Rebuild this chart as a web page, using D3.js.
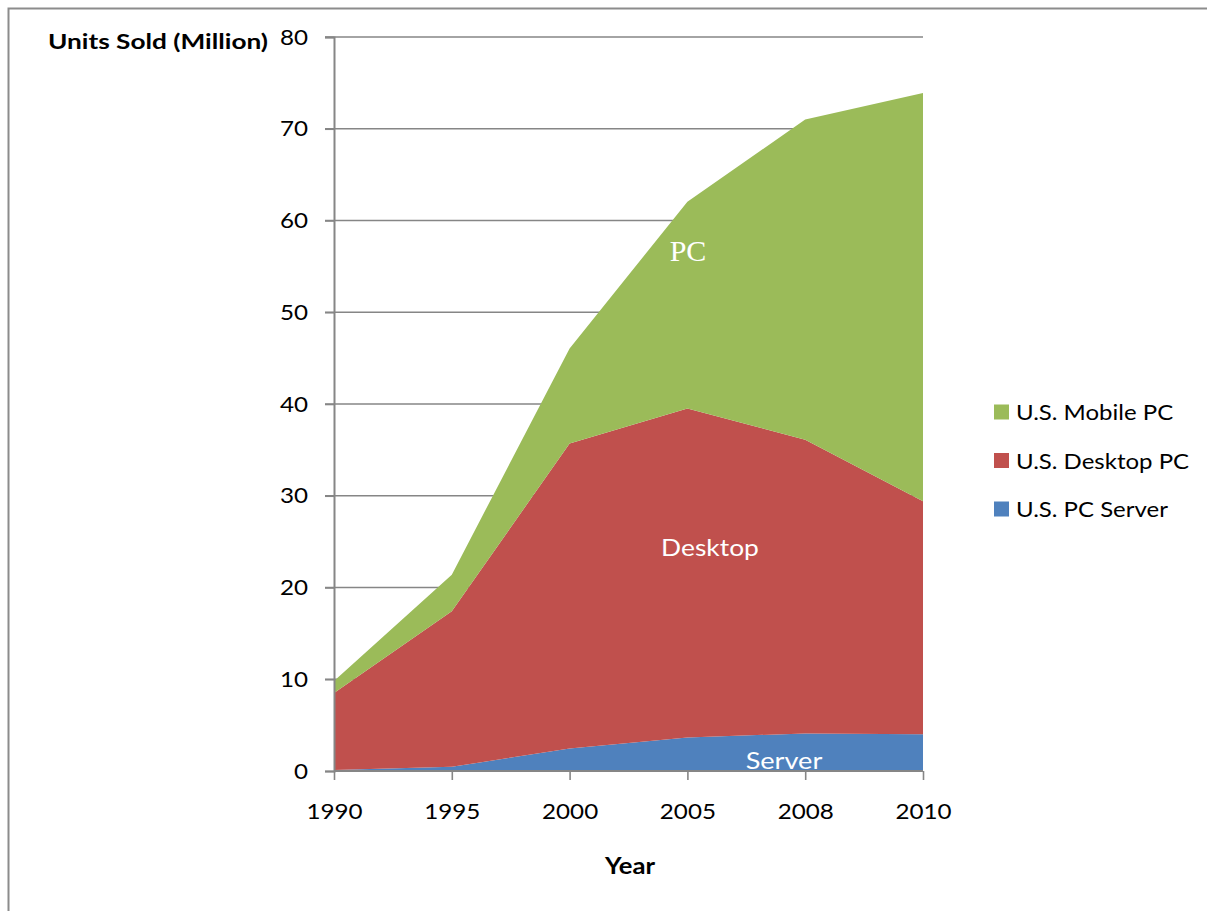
<!DOCTYPE html>
<html>
<head>
<meta charset="utf-8">
<script src="https://cdn.jsdelivr.net/npm/d3@7/dist/d3.min.js"></script>
<style>
  html, body { margin: 0; padding: 0; background: #fff; }
  svg { display: block; font-family: Lato, "Open Sans", sans-serif; }
</style>
</head>
<body>
<svg id="chart" width="1207" height="911"></svg>
<script>
// Category axis (years, evenly spaced)
const years = ["1990", "1995", "2000", "2005", "2008", "2010"];

// Units sold per segment, millions
const serverUnits  = [0.1, 0.45, 2.45, 3.65, 4.1, 4.0];
const desktopUnits = [8.4, 16.95, 33.25, 35.85, 32.0, 25.4];
const mobileUnits  = [1.3, 4.0, 10.35, 22.55, 34.9, 44.5];

const yTicks = [0, 10, 20, 30, 40, 50, 60, 70, 80];

const seriesNames = ["U.S. PC Server", "U.S. Desktop PC", "U.S. Mobile PC"];
const seriesColors = ["#4F81BD", "#C0504D", "#9BBB59"];

const rows = years.map((y, i) => ({
  year: y,
  "U.S. PC Server": serverUnits[i],
  "U.S. Desktop PC": desktopUnits[i],
  "U.S. Mobile PC": mobileUnits[i]
}));

const svg = d3.select("#chart");
const axisGray = "#868686";

// Widen text horizontally by a factor (the face used is a bit narrower than the intended one)
function widen(sel, factor) {
  sel.each(function () {
    const w = this.getComputedTextLength();
    d3.select(this).attr("textLength", w * factor).attr("lengthAdjust", "spacingAndGlyphs");
  });
}

// Outer chart border
svg.append("rect")
  .attr("x", 8.5).attr("y", 8.5)
  .attr("width", 1300).attr("height", 1000)
  .attr("fill", "none").attr("stroke", "#8c8c8c").attr("stroke-width", 2);

const x = d3.scalePoint().domain(years).range([334, 923]);
const y = d3.scaleLinear().domain([0, 80]).range([771, 37]);

// Horizontal gridlines with their tick stubs
svg.append("g").selectAll("line")
  .data(yTicks.filter(t => t > 0))
  .join("line")
  .attr("x1", 325).attr("x2", 923)
  .attr("y1", d => y(d)).attr("y2", d => y(d))
  .attr("stroke", axisGray).attr("stroke-width", 1.6);

// Stacked areas
const stack = d3.stack().keys(seriesNames);
const layers = stack(rows);
const area = d3.area()
  .x(d => x(d.data.year))
  .y0(d => y(d[0]))
  .y1(d => y(d[1]));

svg.append("g").selectAll("path")
  .data(layers)
  .join("path")
  .attr("d", area)
  .attr("fill", (d, i) => seriesColors[i]);

// Y axis
const yAxis = svg.append("g").attr("transform", "translate(334,0)")
  .call(d3.axisLeft(y).tickValues(yTicks).tickSize(9).tickPadding(17));
yAxis.select(".domain").attr("stroke", axisGray).attr("stroke-width", 2);
yAxis.selectAll(".tick line").attr("stroke", axisGray).attr("stroke-width", 1.6);
yAxis.selectAll(".tick text")
  .attr("font-family", "Lato, sans-serif").attr("font-size", 22).attr("fill", "#000")
  .call(widen, 1.1);

// X axis
const xAxis = svg.append("g").attr("transform", "translate(0,771)")
  .call(d3.axisBottom(x).tickSize(9).tickPadding(23));
xAxis.select(".domain").attr("stroke", axisGray).attr("stroke-width", 2)
  .attr("d", "M334,0H923");
xAxis.selectAll(".tick line").attr("stroke", axisGray).attr("stroke-width", 1.6);
xAxis.selectAll(".tick text")
  .attr("font-family", "Lato, sans-serif").attr("font-size", 22).attr("fill", "#000")
  .call(widen, 1.1);

// Axis titles
svg.append("text")
  .attr("x", 158).attr("y", 49).attr("text-anchor", "middle")
  .attr("font-size", 21).attr("font-weight", "bold")
  .attr("textLength", 220).attr("lengthAdjust", "spacingAndGlyphs")
  .text("Units Sold (Million)");
svg.append("text")
  .attr("x", 630).attr("y", 874).attr("text-anchor", "middle")
  .attr("font-size", 22).attr("font-weight", "bold")
  .attr("textLength", 50).attr("lengthAdjust", "spacingAndGlyphs")
  .text("Year");

// Labels inside the areas
svg.append("text")
  .attr("x", 688).attr("y", 261).attr("text-anchor", "middle")
  .attr("font-family", "'Liberation Serif', serif").attr("font-size", 30)
  .attr("fill", "#fff").text("PC");
svg.append("text")
  .attr("x", 710).attr("y", 556).attr("text-anchor", "middle")
  .attr("font-size", 24).attr("fill", "#fff").text("Desktop")
  .call(widen, 1.1);
svg.append("text")
  .attr("x", 784).attr("y", 769).attr("text-anchor", "middle")
  .attr("font-size", 24).attr("fill", "#fff").text("Server")
  .call(widen, 1.13);

// Legend, listed top-down from the upper layer
const legendItems = [2, 1, 0];
const legend = svg.append("g").selectAll("g")
  .data(legendItems)
  .join("g")
  .attr("transform", (d, i) => `translate(994,${412 + i * 48.5})`);
legend.append("rect")
  .attr("x", 0).attr("y", -7.5).attr("width", 15).attr("height", 15)
  .attr("fill", d => seriesColors[d]);
legend.append("text")
  .attr("x", 22).attr("y", 8)
  .attr("font-size", 22).attr("fill", "#000")
  .text(d => seriesNames[d])
  .call(widen, 1.09);
</script>
</body>
</html>
